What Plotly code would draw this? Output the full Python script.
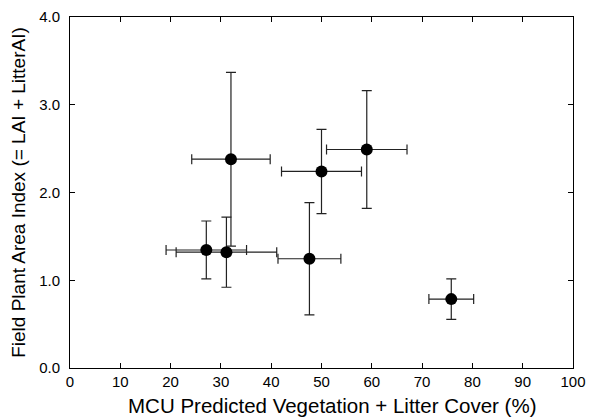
import plotly.graph_objects as go

mcu_cover = [32.0, 50.0, 59.0, 27.1, 31.1, 47.6, 75.8]
cover_err = [7.8, 7.95, 8.0, 8.0, 10.0, 6.25, 4.45]
field_pai = [2.38, 2.24, 2.49, 1.345, 1.32, 1.245, 0.785]
pai_err = [0.99, 0.48, 0.67, 0.33, 0.40, 0.64, 0.23]

x_title = "MCU Predicted Vegetation + Litter Cover (%)"
y_title = "Field Plant Area Index (= LAI + LitterAI)"

fig = go.Figure()
fig.add_trace(go.Scatter(
    x=mcu_cover, y=field_pai, mode="markers",
    marker=dict(color="black", size=12),
    error_x=dict(type="data", array=cover_err, visible=True, color="#222", thickness=1.2, width=5),
    error_y=dict(type="data", array=pai_err, visible=True, color="#222", thickness=1.2, width=5),
    showlegend=False,
))

fig.update_layout(
    width=593, height=419,
    margin=dict(l=70, r=20, t=17, b=51),
    paper_bgcolor="white", plot_bgcolor="white",
    font=dict(family="Liberation Sans, Arial, sans-serif", size=15, color="black"),
    xaxis=dict(range=[0, 100], dtick=10, tick0=0, ticks="inside", ticklen=5, tickcolor="black",
               showline=True, linecolor="black", linewidth=1, mirror="ticks", showgrid=False, zeroline=False,
               automargin=False),
    yaxis=dict(range=[0, 4], dtick=1, tick0=0, tickformat=".1f", ticks="inside", ticklen=5, tickcolor="black",
               showline=True, linecolor="black", linewidth=1, mirror="ticks", showgrid=False, zeroline=False,
               automargin=False, ticklabelstandoff=6,
               title=dict(text=y_title, font=dict(size=19), standoff=8)),
    annotations=[dict(text=x_title, xref="paper", yref="paper", x=0.521, y=-0.108,
                      xanchor="center", yanchor="middle", showarrow=False, font=dict(size=20.5))],
)
fig.write_html("out.html", config={"displayModeBar": False},
               post_script="document.body.style.margin='0';document.body.style.overflow='hidden';")
